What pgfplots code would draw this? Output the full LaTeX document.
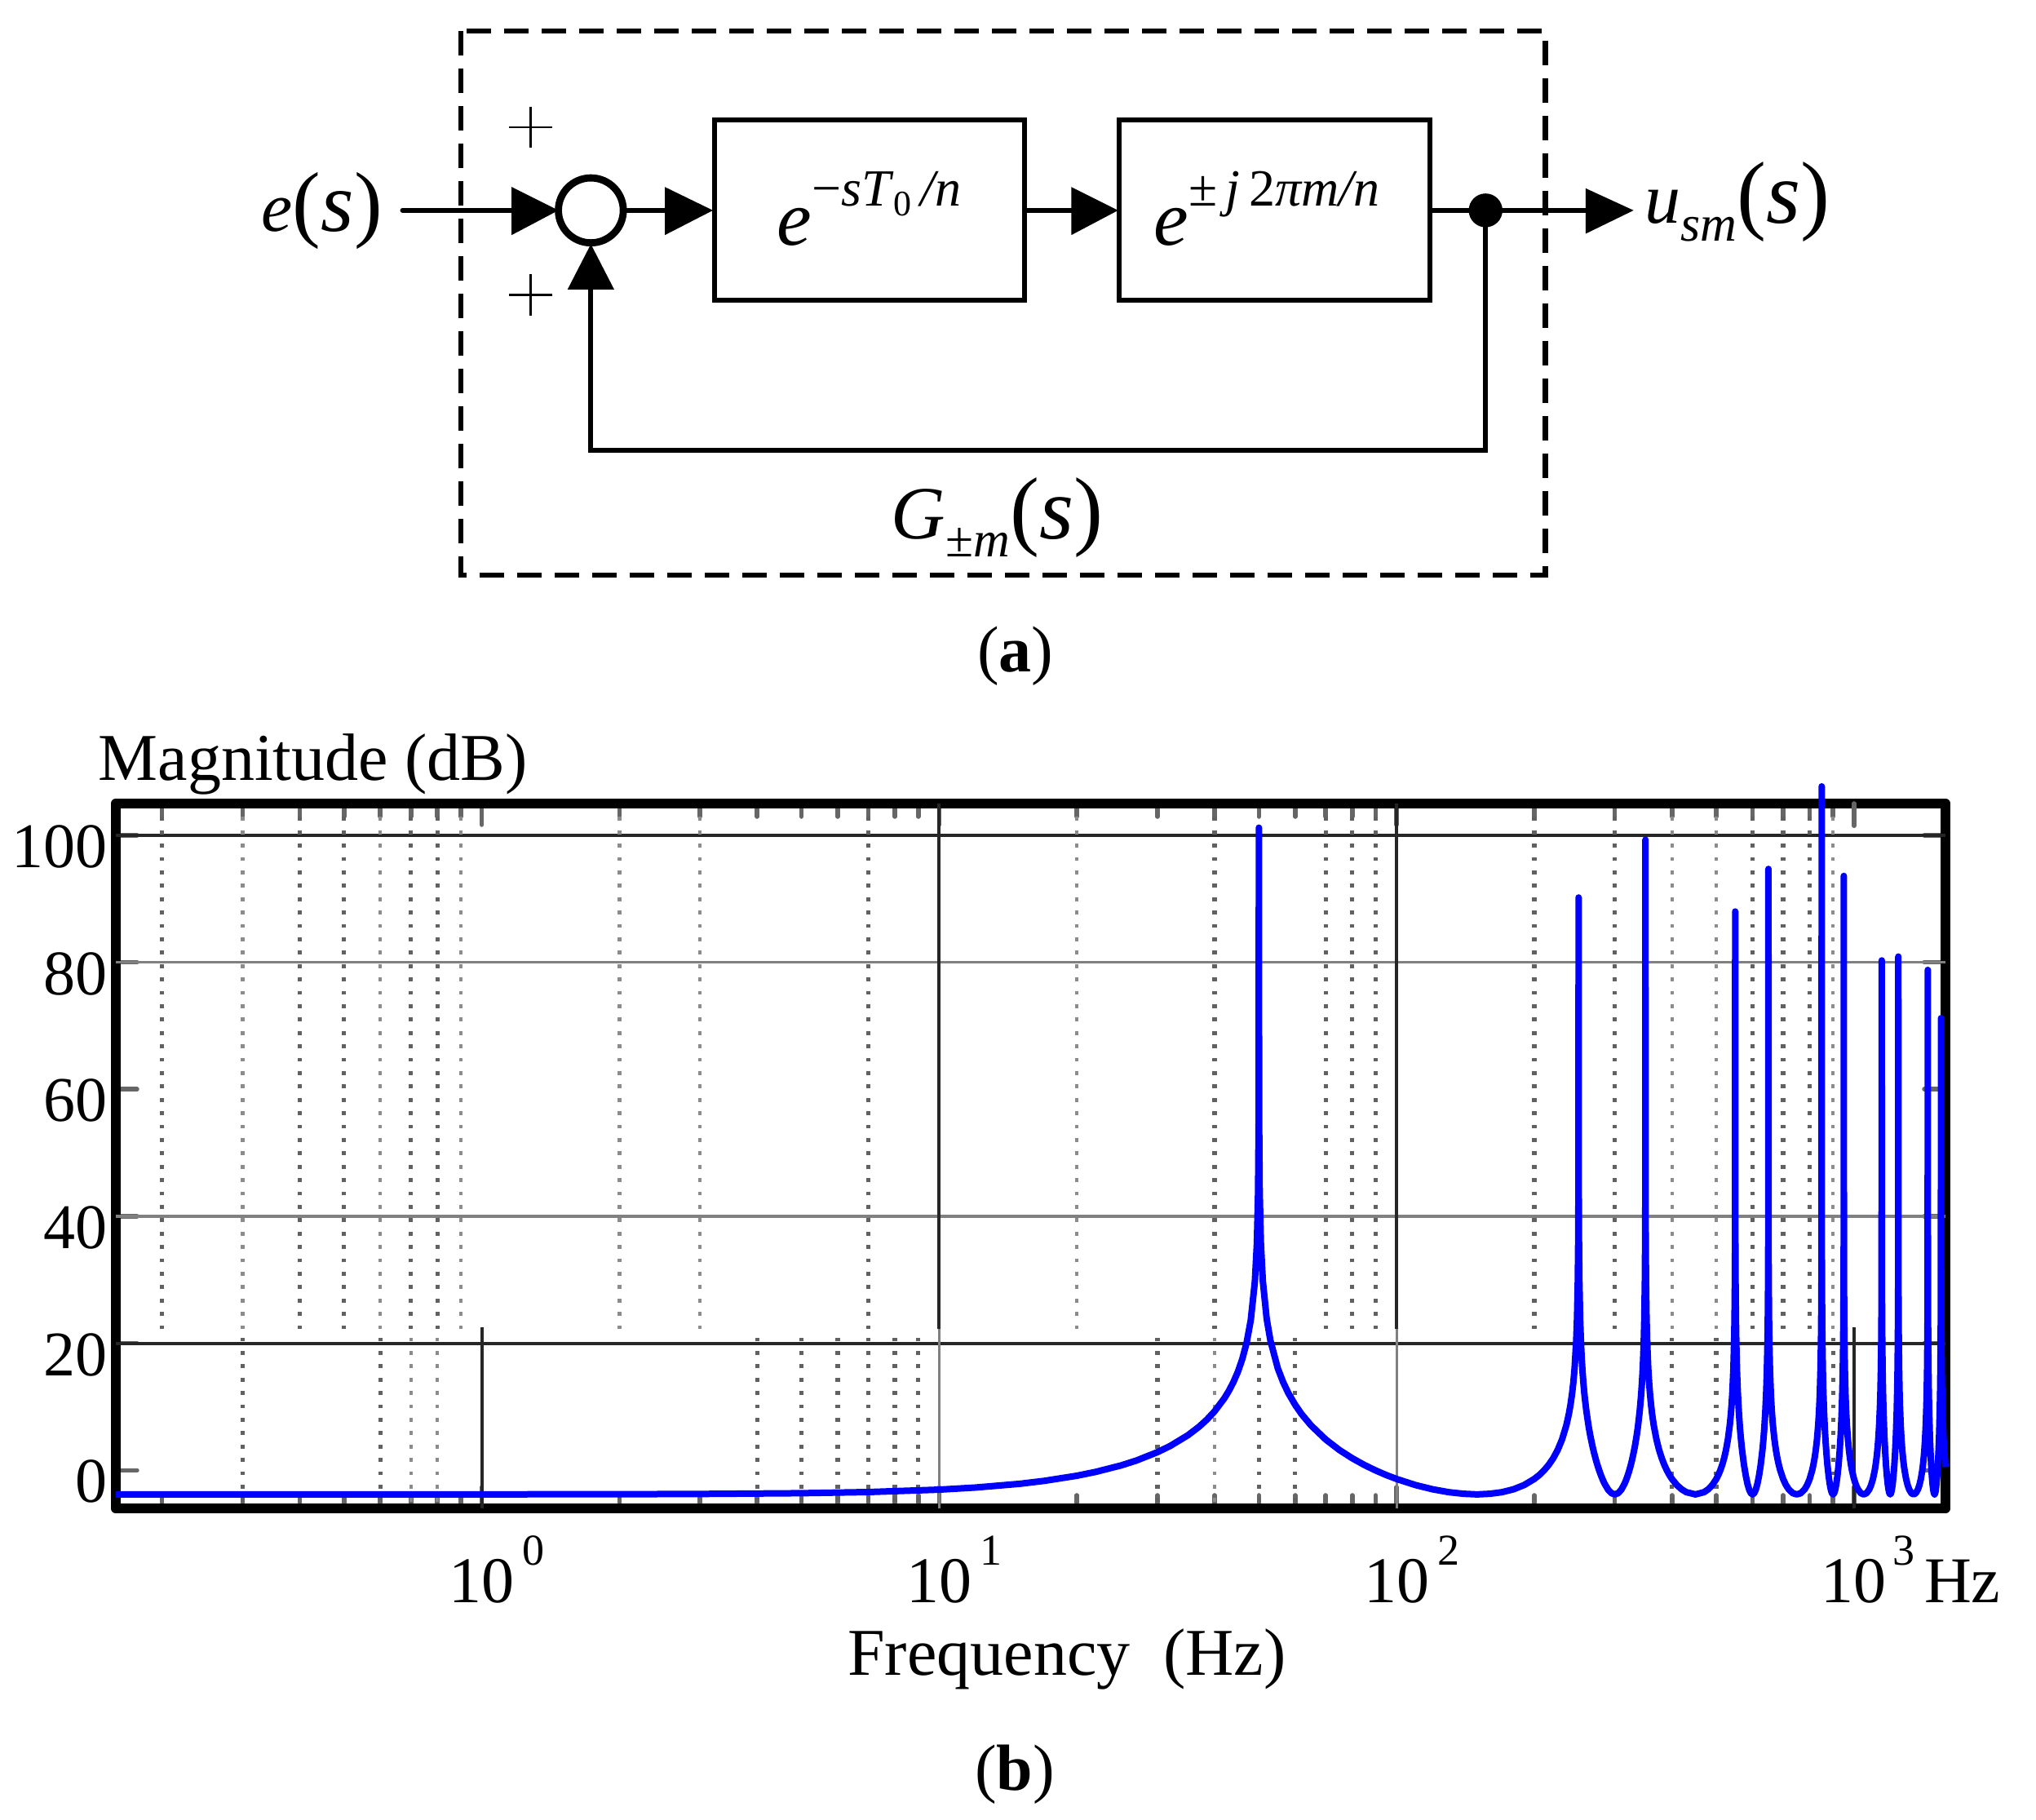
\documentclass[border=0pt]{standalone}
\usepackage{fontspec}
\setmainfont{Liberation Serif}
\usepackage{pgfplots}
\usepackage{pgfplotstable}
\pgfplotsset{compat=1.18}
\newcommand{\fs}[1]{\fontsize{#1}{#1}\selectfont}
\newcommand{\tl}[1]{10\rlap{\hspace{2.5pt}\raisebox{11.4pt}{\fs{13.5}#1}}}
\tikzset{
  gridDark/.style={draw=black!85, line width=1pt},
  gridLight/.style={draw=black!50, line width=0.8pt},
  dotDark/.style={draw=black!62, line width=1.3pt, dash pattern=on 1.2pt off 2.9pt},
  dotLight/.style={draw=black!45, line width=1.1pt, dash pattern=on 1.2pt off 2.9pt},
}

\pgfplotstableread{
f M
0.15849 -3.80
0.3 -3.80
0.5 -3.80
1 -3.79
2 -3.77
3 -3.73
5 -3.61
7 -3.43
10 -3.05
12 -2.72
15 -2.13
17 -1.66
20 -0.86
22 -0.25
25 0.77
27 1.54
30 2.85
32 3.83
35 5.53
37 6.86
38.5 7.99
40 9.28
42 11.31
43 12.52
44 13.91
45 15.54
46 17.53
47 20.08
48 23.65
49 29.73
49.5 35.77
49.8 43.75
49.95 55.8
50 101.2
50.05 55.8
50.2 43.8
50.5 35.82
51 29.83
52 23.86
53 20.39
55 16.04
56.5 13.87
58 12.14
60 10.32
62 8.84
65 7.07
70 4.85
75 3.19
80 1.89
85 0.84
90 -0.03
95 -0.76
100 -1.37
110 -2.33
120 -3.00
130 -3.45
140 -3.70
150 -3.80
160 -3.70
170 -3.45
180 -3.00
190 -2.33
200 -1.37
205 -0.76
210 -0.03
215 0.84
220 1.89
225 3.19
230 4.85
235 7.07
238 8.84
240 10.32
242 12.14
243.5 13.87
245 16.04
247 20.39
248 23.86
249 29.83
249.5 35.82
249.8 43.8
249.95 55.8
250 90.2
250.05 55.8
250.2 43.75
250.5 35.77
251 29.73
252 23.65
253 20.08
254 17.53
255 15.54
256 13.91
257 12.52
258 11.31
260 9.28
263 6.86
265 5.53
268 3.83
270 2.85
273 1.54
275 0.77
278 -0.25
280 -0.86
283 -1.66
285 -2.13
290 -3.05
295 -3.61
300 -3.80
305 -3.61
310 -3.05
315 -2.13
317 -1.66
320 -0.86
322 -0.25
325 0.77
327 1.54
330 2.85
332 3.83
335 5.53
337 6.86
340 9.28
342 11.31
343 12.52
344 13.91
345 15.54
346 17.53
347 20.08
348 23.65
349 29.73
349.5 35.77
349.8 43.75
350 99.3
350.2 43.8
350.5 35.82
351 29.83
352 23.86
353 20.39
355 16.04
356.5 13.87
358 12.14
360 10.32
362 8.84
365 7.07
370 4.85
375 3.19
380 1.89
385 0.84
390 -0.03
395 -0.76
400 -1.37
410 -2.33
420 -3.00
430 -3.45
450 -3.80
470 -3.45
480 -3.00
490 -2.33
500 -1.37
505 -0.76
510 -0.03
515 0.84
520 1.89
525 3.19
530 4.85
535 7.07
538 8.84
540 10.32
542 12.14
545 16.04
547 20.39
548 23.86
549 29.83
549.5 35.82
550 88.0
550.5 35.77
551 29.73
552 23.65
553 20.08
555 15.54
557 12.52
560 9.28
563 6.86
565 5.53
568 3.83
570 2.85
575 0.77
580 -0.86
585 -2.13
590 -3.05
595 -3.61
600 -3.80
605 -3.61
610 -3.05
615 -2.13
620 -0.86
625 0.77
630 2.85
632 3.83
635 5.53
637 6.86
640 9.28
643 12.52
645 15.54
647 20.08
648 23.65
649 29.73
649.5 35.77
650 94.7
650.5 35.82
651 29.83
652 23.86
653 20.39
655 16.04
658 12.14
660 10.32
662 8.84
665 7.07
670 4.85
675 3.19
680 1.89
685 0.84
690 -0.03
700 -1.37
710 -2.33
720 -3.00
735 -3.61
750 -3.80
765 -3.61
780 -3.00
790 -2.33
800 -1.37
810 -0.03
815 0.84
820 1.89
825 3.19
830 4.85
835 7.07
838 8.84
840 10.32
842 12.14
845 16.04
847 20.39
848 23.86
849 29.83
849.5 35.82
850 107.7
850.5 35.77
851 29.73
852 23.65
853 20.08
855 15.54
857 12.52
860 9.28
863 6.86
865 5.53
870 2.85
875 0.77
880 -0.86
885 -2.13
890 -3.05
895 -3.61
900 -3.80
905 -3.61
910 -3.05
915 -2.13
920 -0.86
925 0.77
930 2.85
935 5.53
937 6.86
940 9.28
943 12.52
945 15.54
947 20.08
948 23.65
949 29.73
949.5 35.77
950 93.6
950.5 35.82
951 29.83
952 23.86
953 20.39
955 16.04
958 12.14
960 10.32
962 8.84
965 7.07
970 4.85
975 3.19
980 1.89
985 0.84
990 -0.03
1000 -1.37
1010 -2.33
1020 -3.00
1035 -3.61
1050 -3.80
1065 -3.61
1080 -3.00
1090 -2.33
1100 -1.37
1110 -0.03
1115 0.84
1120 1.89
1125 3.19
1130 4.85
1135 7.07
1140 10.32
1142 12.14
1145 16.04
1147 20.39
1148 23.86
1149 29.83
1150 80.3
1151 29.73
1152 23.65
1153 20.08
1155 15.54
1157 12.52
1160 9.28
1165 5.53
1170 2.85
1175 0.77
1180 -0.86
1185 -2.13
1190 -3.05
1195 -3.61
1200 -3.80
1205 -3.61
1210 -3.05
1215 -2.13
1220 -0.86
1225 0.77
1230 2.85
1235 5.53
1240 9.28
1243 12.52
1245 15.54
1247 20.08
1248 23.65
1249 29.73
1250 80.9
1251 29.83
1252 23.86
1253 20.39
1255 16.04
1258 12.14
1260 10.32
1265 7.07
1270 4.85
1275 3.19
1280 1.89
1285 0.84
1290 -0.03
1300 -1.37
1310 -2.33
1320 -3.00
1335 -3.61
1350 -3.80
1365 -3.61
1380 -3.00
1390 -2.33
1400 -1.37
1410 -0.03
1415 0.84
1420 1.89
1425 3.19
1430 4.85
1435 7.07
1440 10.32
1442 12.14
1445 16.04
1447 20.39
1448 23.86
1449 29.83
1450 78.8
1451 29.73
1452 23.65
1453 20.08
1455 15.54
1457 12.52
1460 9.28
1465 5.53
1470 2.85
1475 0.77
1480 -0.86
1485 -2.13
1490 -3.05
1495 -3.61
1500 -3.80
1505 -3.61
1510 -3.05
1515 -2.13
1520 -0.86
1525 0.77
1530 2.85
1535 5.53
1540 9.28
1543 12.52
1545 15.54
1547 20.08
1548 23.65
1549 29.73
1550 71.2
1551 29.83
1552 23.86
1553 20.39
1555 16.04
1558 12.14
1560 10.32
1565 7.07
1570 4.85
1575 3.19
1580 1.89
1584.9 0.5
}\magdata

\begin{document}
\begin{tikzpicture}
\path[use as bounding box] (0,0) rectangle (624pt,557.5pt);

% ---------- (a) block diagram ----------
\begin{scope}[shift={(0,557.5pt)}, x=0.398pt, y=-0.398pt]
  \draw[line width=1.6pt, dash pattern=on 7.5pt off 4pt] (355,24) rectangle (1190,443);
  \draw[line width=1.5pt] (550,92.5) rectangle (789,231);
  \draw[line width=1.5pt] (862,92.5) rectangle (1101,231);
  \draw[line width=1.5pt, line cap=round] (310,162) -- (400,162);
  \fill (394,144) -- (430,162) -- (394,181) -- cycle;
  \draw[line width=2.2pt] (455,162) circle [radius=25];
  \draw[line width=1.5pt] (480,162) -- (515,162);
  \fill (512,144) -- (549,162) -- (512,181) -- cycle;
  \draw[line width=1.5pt] (789,162) -- (828,162);
  \fill (825,144) -- (861,162) -- (825,181) -- cycle;
  \draw[line width=1.5pt] (1101,162) -- (1225,162);
  \fill (1221,145) -- (1258,162) -- (1221,180) -- cycle;
  \fill (1144,162) circle [radius=13];
  \draw[line width=1.5pt] (1144,162) -- (1144,347) -- (455,347) -- (455,220);
  \fill (437,223) -- (455,188) -- (473,223) -- cycle;
  \draw[line width=0.6pt] (392,98) -- (425,98) (408.5,82) -- (408.5,114);
  \draw[line width=0.6pt] (392,227) -- (425,227) (408.5,211) -- (408.5,243);
  \node[anchor=base west, inner sep=0] at (201,178) {\fs{21.5}\textit{e}\fs{26}(\textit{s})};
  \node[anchor=base west, inner sep=0] at (598,189) {\fs{24}\textit{e}\raisebox{12pt}{\fs{16}−\textit{sT}\raisebox{-3pt}{\fs{11}0}\,\textit{/n}}};
  \node[anchor=base west, inner sep=0] at (888,189) {\fs{24}\textit{e}\raisebox{12pt}{\fs{16}±\,\textit{j}\,2\textit{πm/n}}};
  \node[anchor=base west, inner sep=0] at (1266,172) {\fs{22}\textit{u}\raisebox{-5.5pt}{\fs{15.5}\textit{sm}}\fs{27}(\textit{s})};
  \node[anchor=base west, inner sep=0] at (686,415) {\fs{23}\textit{G}\raisebox{-5.5pt}{\fs{15.5}±\textit{m}}\fs{27}(\textit{s})};
  \node[anchor=base, inner sep=0] at (782,517) {\fs{20}(\textbf{a})};
\end{scope}

% ---------- (b) magnitude plot ----------
\node[anchor=base west, inner sep=0] at (30pt,318.25pt) {\fs{20.5}Magnitude (dB)};
\node[anchor=base, inner sep=0] at (327pt,44.25pt) {\fs{20.5}Frequency\ \ (Hz)};
\node[anchor=base, inner sep=0] at (311pt,9pt) {\fs{20}(\textbf{b})};

\begin{axis}[
  at={(35.5pt,95.25pt)}, anchor=south west,
  width=560.75pt, height=216pt, scale only axis,
  xmode=log, xmin=0.15849, xmax=1584.9, ymin=-6, ymax=105,
  clip=false,
  axis line style={line width=3.1pt, line join=round},
  xtick={1,10,100,1000},
  xticklabels={\tl{0},\tl{1},\tl{2},{10\rlap{\hspace{1.8pt}\raisebox{11.4pt}{\fs{13.5}3}\hspace{3pt}Hz}}},
  minor xtick={0.2,0.3,0.4,0.5,0.6,0.7,0.8,0.9,2,3,4,5,6,7,8,9,20,30,40,50,60,70,80,90,200,300,400,500,600,700,800,900},
  ytick={0,20,40,60,80,100},
  yticklabels={0,20,40,60,80,100},
  tick align=inside,
  major tick length=6.5pt, minor tick length=4pt,
  tick style={black!60, line width=1.4pt, line cap=round},
  xticklabel style={font=\fs{20}, anchor=base, inner sep=0pt, yshift=-28.75pt},
  yticklabel style={font=\fs{19.5}, anchor=east, inner sep=0pt, xshift=-2.5pt, yshift=-3.5pt},
]
  % horizontal grid
  \draw[gridDark] (axis cs:0.15849,20) -- (axis cs:1584.9,20);
  \draw[gridDark] (axis cs:0.15849,100) -- (axis cs:1584.9,100);
  \draw[gridLight] (axis cs:0.15849,40) -- (axis cs:1584.9,40);
  \draw[gridLight] (axis cs:0.15849,80) -- (axis cs:1584.9,80);
  % vertical minor grid (split)
  \pgfplotsinvokeforeach{0.2,0.4,0.5,0.7,0.8,7,40,70,80,90,200,300,600,700,800}{
    \draw[dotDark] (axis cs:#1,22.2) -- (axis cs:#1,104);}
  \pgfplotsinvokeforeach{0.3,0.6,0.9,2,3,20,400,500,900}{
    \draw[dotLight] (axis cs:#1,22.2) -- (axis cs:#1,104);}
  \pgfplotsinvokeforeach{0.3,0.6,4,5,6,7,8,9,30,50,60,400,500,900}{
    \draw[dotDark] (axis cs:#1,-5) -- (axis cs:#1,22.2);}
  \pgfplotsinvokeforeach{0.7,0.8,40}{
    \draw[dotLight] (axis cs:#1,-5) -- (axis cs:#1,22.2);}
  % vertical major grid (split)
  \draw[gridDark] (axis cs:1,-6) -- (axis cs:1,22.5);
  \draw[gridDark] (axis cs:1000,-6) -- (axis cs:1000,22.5);
  \draw[gridDark] (axis cs:10,22.2) -- (axis cs:10,105);
  \draw[gridDark] (axis cs:100,22.2) -- (axis cs:100,105);
  \draw[gridLight] (axis cs:10,-6) -- (axis cs:10,22.2);
  \draw[gridLight] (axis cs:100,-6) -- (axis cs:100,22.2);
  \draw[black!60, line width=1.4pt, line cap=round] (axis cs:1000,105) -- (axis cs:1000,101.5);
  % magnitude curve
  \addplot[color=blue, line width=2pt, line join=round, mark=none] table[x=f, y=M] {\magdata};
\end{axis}
\end{tikzpicture}
\end{document}
